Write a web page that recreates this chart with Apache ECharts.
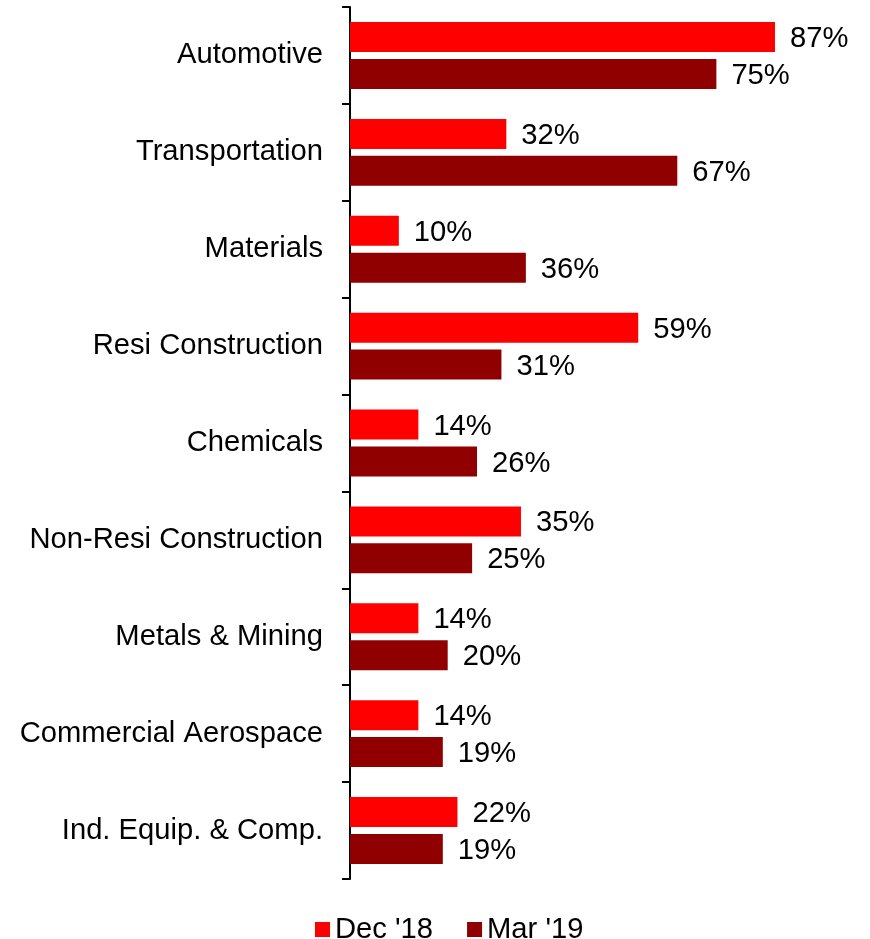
<!DOCTYPE html>
<html>
<head>
<meta charset="utf-8">
<script src="https://cdn.jsdelivr.net/npm/echarts@6/dist/echarts.min.js"></script>
<style>
  html, body { margin: 0; padding: 0; background: #fff; }
  #chart { width: 870px; height: 939px; }
</style>
</head>
<body>
<div id="chart"></div>
<script>
// Sectors, top to bottom
const categories = [
  'Automotive',
  'Transportation',
  'Materials',
  'Resi Construction',
  'Chemicals',
  'Non-Resi Construction',
  'Metals & Mining',
  'Commercial Aerospace',
  'Ind. Equip. & Comp.'
];
const seriesNames = ["Dec '18", "Mar '19"];
const dec18 = [87, 32, 10, 59, 14, 35, 14, 14, 22];
const mar19 = [75, 67, 36, 31, 26, 25, 20, 19, 19];

const FONT = 'Liberation Sans, Arial, sans-serif';
const FS = 29.2;

const chart = echarts.init(document.getElementById('chart'), null, { renderer: 'canvas' });

function barSeries(name, data, color) {
  return {
    name: name,
    type: 'bar',
    data: data,
    barWidth: 30,
    barGap: '23%',
    itemStyle: { color: color },
    label: {
      show: true,
      position: 'right',
      distance: 15,
      offset: [0, 2],
      formatter: '{c}%',
      color: '#000',
      fontFamily: FONT,
      fontSize: FS
    },
    animation: false
  };
}

chart.setOption({
  backgroundColor: '#fff',
  textStyle: { fontFamily: FONT },
  grid: { left: 350, right: 31.5, top: 7, bottom: 60, containLabel: false },
  legend: {
    data: seriesNames,
    left: 310,
    top: 910,
    icon: 'rect',
    itemWidth: 15,
    itemHeight: 15,
    itemGap: 34,
    textStyle: { color: '#000', fontFamily: FONT, fontSize: FS }
  },
  xAxis: {
    type: 'value',
    min: 0,
    max: 100,
    show: false
  },
  yAxis: {
    type: 'category',
    inverse: true,
    data: categories,
    axisLine: { show: true, lineStyle: { color: '#000', width: 2 } },
    axisTick: { show: true, length: 8, lineStyle: { color: '#000', width: 2 } },
    axisLabel: { color: '#000', fontFamily: FONT, fontSize: FS, margin: 27, padding: [4, 0, 0, 0] }
  },
  series: [
    barSeries(seriesNames[0], dec18, '#ff0000'),
    barSeries(seriesNames[1], mar19, '#900000')
  ]
});
</script>
</body>
</html>
